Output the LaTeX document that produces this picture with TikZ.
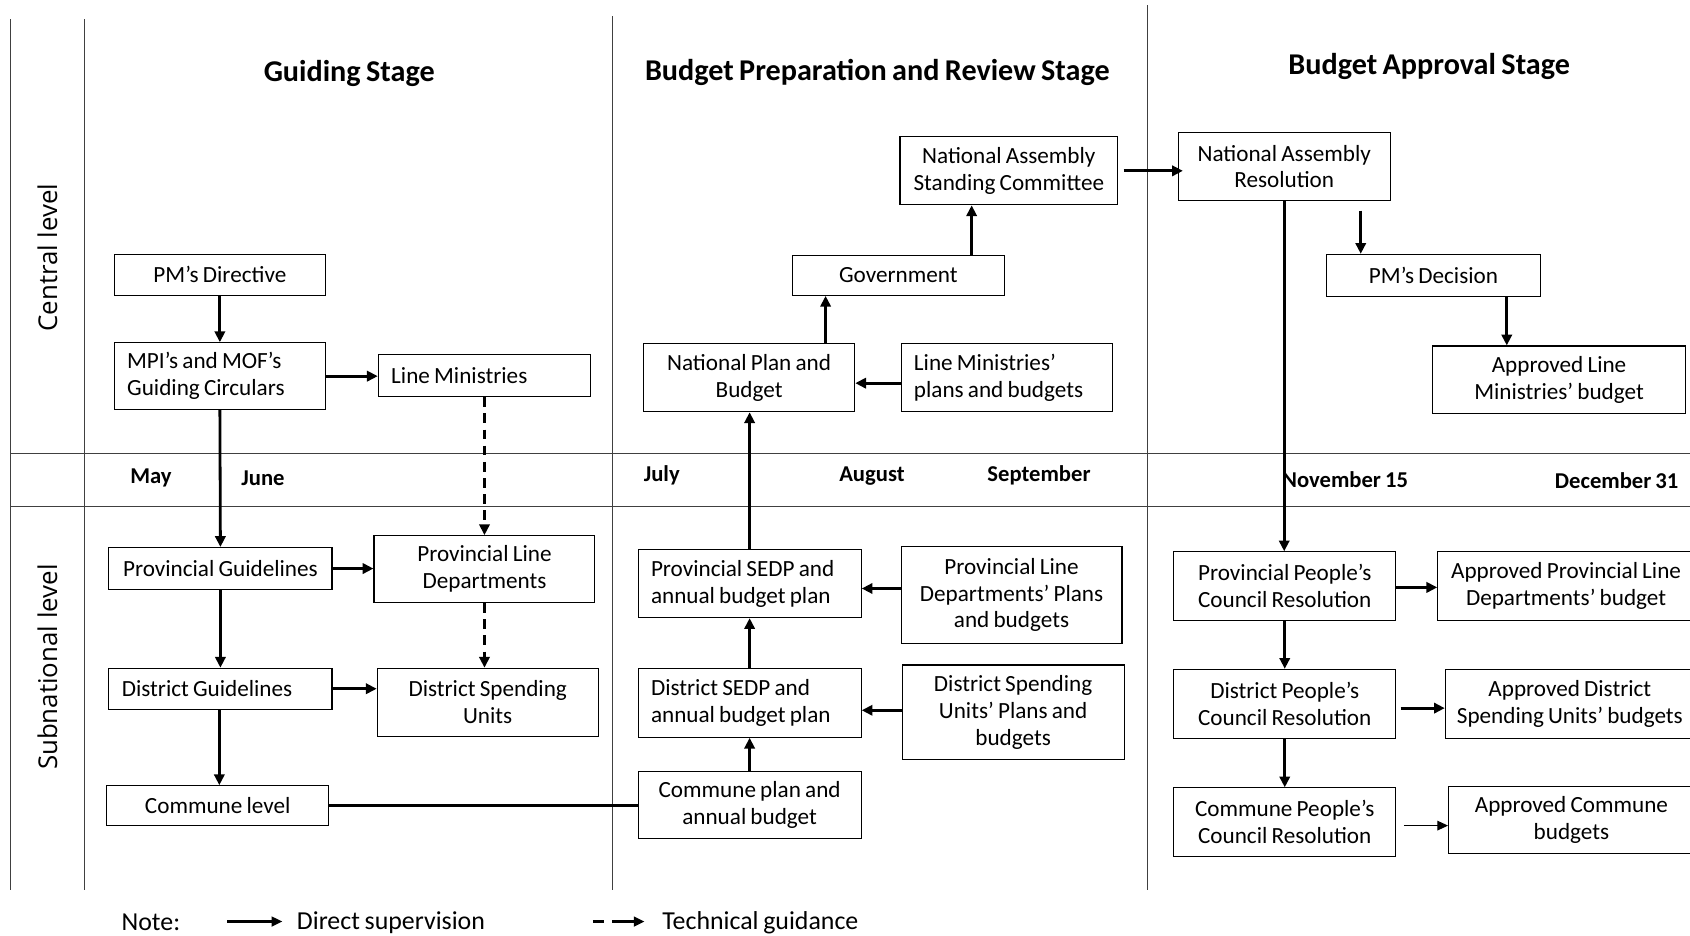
\documentclass[tikz,border=0pt]{standalone}
\usepackage{fontspec}
\setmainfont[WordSpace=0.8]{Carlito}
\newfontfamily\sidefont{Open Sans}
\usetikzlibrary{arrows.meta}
\newcommand\bxf{\fontsize{21.5}{25}\selectfont}
\begin{document}
\begin{tikzpicture}[x=1pt,y=-1pt,
  box/.style={draw, line width=1pt, inner sep=0pt, align=center, font=\bxf},
  lbox/.style={box, align=flush left, inner xsep=12pt},
  arr/.style={line width=2.6pt, -{Triangle[length=10pt,width=9.5pt]}},
  darr/.style={arr, dash pattern=on 9pt off 6pt},
  frame/.style={line width=1pt, black!75},
  hdr/.style={font=\fontsize{28}{32}\selectfont\bfseries},
  mon/.style={font=\fontsize{21}{24}\selectfont\bfseries},
  side/.style={font=\sidefont\fontsize{24}{30}\selectfont, rotate=90},
  leg/.style={font=\fontsize{24}{28}\selectfont}]
\useasboundingbox (0,0) rectangle (1568,868);

% frame lines
\draw[frame] (10,18) -- (10,826);
\draw[frame] (78,18) -- (78,826);
\draw[frame] (568,15) -- (568,826);
\draw[frame] (1065,5) -- (1065,826);
\draw[frame] (10,421) -- (1568,421);
\draw[frame] (10,470) -- (1568,470);

% headers
\node[hdr] (h1) at (324,68) {Guiding Stage};
\node[hdr] (h2) at (814,67) {Budget Preparation and Review Stage};
\node[hdr] (h3) at (1326,62) {Budget Approval Stage};
\node[side] (cen) at (44,239) {Central level};
\node[side] (sub) at (44,619) {Subnational level};

% months
\node[mon] (may) at (140,443) {May};
\node[mon] (jun) at (244,444) {June};
\node[mon] (jul) at (614,441) {July};
\node[mon] (aug) at (809,442) {August};
\node[mon] (sep) at (964,441) {September};
\node[mon, anchor=west] (nov) at (1186,445) {November 15};
\node[mon] (dec) at (1500,446) {December 31};

% guiding stage
\node[box, minimum width=196pt, minimum height=38pt] (pm) at (204,255) {PM’s Directive};
\node[lbox, text width=172pt, minimum height=62pt] (mpi) at (204,349) {MPI’s and MOF’s\\Guiding Circulars};
\node[lbox, text width=173pt, minimum height=39pt] (lm) at (449.5,348.5) {Line Ministries};
\node[box, minimum width=207pt, minimum height=39pt] (pg) at (204.5,527.5) {Provincial Guidelines};
\node[box, minimum width=205pt, minimum height=62pt] (pld) at (449.5,528) {Provincial Line\\Departments};
\node[lbox, text width=183pt, minimum height=38pt] (dg) at (204.5,639) {District Guidelines};
\node[box, minimum width=205pt, minimum height=63pt] (dsu) at (452.5,651.5) {District Spending\\Units};
\node[box, minimum width=206pt, minimum height=37pt] (cl) at (202,747.5) {Commune level};

% preparation stage
\node[box, minimum width=202pt, minimum height=63pt] (nasc) at (936,158.5) {National Assembly\\Standing Committee};
\node[box, minimum width=197pt, minimum height=37pt] (gov) at (833.5,255.5) {Government};
\node[box, minimum width=196pt, minimum height=63pt] (npb) at (695,350.5) {National Plan and\\Budget};
\node[lbox, text width=172pt, minimum height=63pt] (lmp) at (934,350.5) {Line Ministries’\\plans and budgets};
\node[lbox, text width=183pt, minimum height=63pt] (psedp) at (695.5,541.5) {Provincial SEDP and\\annual budget plan};
\node[box, minimum width=205pt, minimum height=90pt] (pldp) at (938.5,552) {Provincial Line\\Departments’ Plans\\and budgets};
\node[lbox, text width=183pt, minimum height=64pt] (dsedp) at (695.5,652) {District SEDP and\\annual budget plan};
\node[box, minimum width=206pt, minimum height=88pt] (dsup) at (940,661) {District Spending\\Units’ Plans and\\budgets};
\node[box, minimum width=207pt, minimum height=62pt] (cp) at (695.5,747) {Commune plan and\\annual budget};

% approval stage
\node[box, minimum width=197pt, minimum height=63pt] (nar) at (1191.5,154.5) {National Assembly\\Resolution};
\node[box, minimum width=198pt, minimum height=39pt] (pmd) at (1330,255.5) {PM’s Decision};
\node[box, minimum width=235pt, minimum height=63pt] (alm) at (1446.5,352.5) {Approved Line\\Ministries’ budget};
\node[box, minimum width=206pt, minimum height=64pt] (ppc) at (1192,544) {Provincial People’s\\Council Resolution};
\node[box, minimum width=238pt, minimum height=64pt] (apld) at (1453,544) {Approved Provincial Line\\Departments’ budget};
\node[box, minimum width=206pt, minimum height=64pt] (dpc) at (1192,653) {District People’s\\Council Resolution};
\node[box, minimum width=231pt, minimum height=64pt] (adsu) at (1456.5,653) {Approved District\\Spending Units’ budgets};
\node[box, minimum width=206pt, minimum height=64pt] (cpc) at (1192,763) {Commune People’s\\Council Resolution};
\node[box, minimum width=228pt, minimum height=62pt] (ac) at (1458,761) {Approved Commune\\budgets};

% connectors: guiding
\draw[arr] (pm.south) -- (mpi.north);
\draw[arr] (mpi.east) -- (mpi.east -| lm.west);
\draw[arr] (mpi.south) -- (pg.north);
\draw[darr] (lm.south) -- (lm.south |- pld.north);
\draw[arr] (pg.east) -- (pg.east -| pld.west);
\draw[arr] (pg.south) -- (pg.south |- dg.north);
\draw[darr] (pld.south) -- (pld.south |- dsu.north);
\draw[arr] (dg.east) -- (dg.east -| dsu.west);
\draw[arr] ([xshift=-1pt]dg.south) -- ([xshift=-1pt]dg.south |- cl.north);
\draw[line width=2.6pt] (cl.east) -- (cl.east -| cp.west);

% connectors: preparation
\draw[arr] (cp.north) -- (dsedp.south);
\draw[arr] (dsedp.north) -- (psedp.north |- psedp.south);
\draw[arr] (psedp.north) -- (psedp.north |- npb.south);
\draw[arr] ([yshift=-5pt]lmp.west) -- ([yshift=-5pt]lmp.west -| npb.east);
\draw[arr] ([yshift=6pt]pldp.west) -- ([yshift=6pt]pldp.west -| psedp.east);
\draw[arr] ([yshift=2pt]dsup.west) -- ([yshift=2pt]dsup.west -| dsedp.east);
\draw[arr] ([xshift=71pt]npb.north) -- ([xshift=71pt]npb.north |- gov.south);
\draw[arr] ([xshift=68pt]gov.north) -- ([xshift=68pt]gov.north |- nasc.south);
\draw[arr] ([xshift=5pt]nasc.east) -- ([xshift=5pt]nasc.east -| nar.west);

% connectors: approval
\draw[arr] ([xshift=71pt,yshift=-9pt]nar.south) -- ([xshift=71pt]nar.south |- pmd.north);
\draw[arr] ([xshift=68pt]pmd.south) -- ([xshift=68pt]pmd.south |- alm.north);
\draw[arr] (nar.south) -- (nar.south |- ppc.north);
\draw[arr] ([yshift=-1pt]ppc.east) -- ([yshift=-1pt]ppc.east -| apld.west);
\draw[arr] (ppc.south) -- (dpc.north);
\draw[arr] ([xshift=4pt,yshift=-4pt]dpc.east) -- ([yshift=-4pt]dpc.east -| adsu.west);
\draw[arr] (dpc.south) -- (cpc.north);
\draw[line width=1pt, -{Triangle[length=10pt,width=9pt]}] ([xshift=7pt,yshift=-3pt]cpc.east) -- ([yshift=-3pt]cpc.east -| ac.west);

% legend
\node[leg] (note) at (140,856) {Note:};
\coordinate (l1a) at (211,855);
\coordinate (l1b) at (262,855);
\draw[line width=2.2pt, -{Triangle[length=10pt,width=9pt]}] (l1a) -- (l1b);
\node[leg, anchor=west] (ds) at (272,856) {Direct supervision};
\coordinate (l2a) at (550,855);
\coordinate (l2b) at (598,855);
\draw[line width=2.2pt, dash pattern=on 10pt off 8pt on 40pt off 0pt, -{Triangle[length=10pt,width=9pt]}] (l2a) -- (l2b);
\node[leg, anchor=west] (tg) at (611,856) {Technical guidance};
\end{tikzpicture}
\end{document}
